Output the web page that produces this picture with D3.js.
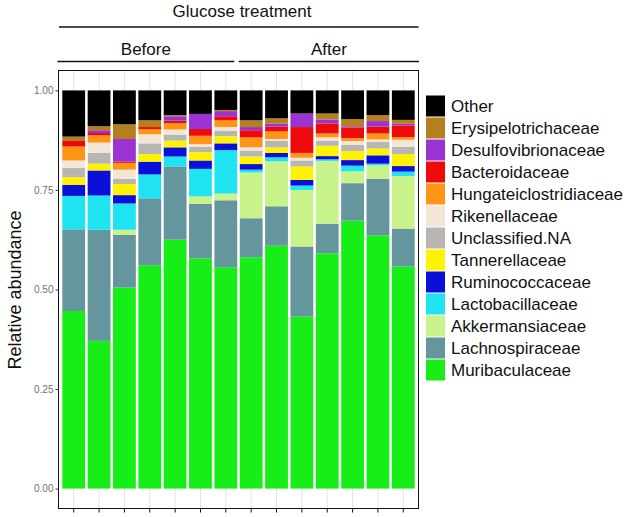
<!DOCTYPE html>
<html><head><meta charset="utf-8">
<script src="https://cdn.jsdelivr.net/npm/d3@7"></script>
<style>html,body{margin:0;padding:0;background:#fff;}svg{display:block;font-family:"Liberation Sans",Arial,sans-serif;}</style>
</head><body>
<svg id="c" width="640" height="517"></svg>
<script>
const samples = ["B1","B2","B3","B4","B5","B6","B7","A1","A2","A3","A4","A5","A6","A7"];
const families = ["Other","Erysipelotrichaceae","Desulfovibrionaceae","Bacteroidaceae","Hungateiclostridiaceae","Rikenellaceae","Unclassified.NA","Tannerellaceae","Ruminococcaceae","Lactobacillaceae","Akkermansiaceae","Lachnospiraceae","Muribaculaceae"];
const colors = ["#000000","#B5801C","#9A32D4","#EE0A0A","#FF9515","#F4E6D6","#B8B6B2","#FFF300","#0A10D8","#1FE3F0","#C8F28A","#65969D","#17EE17"];

const Other                  = [.116,.090,.085,.075,.062,.059,.049, .075,.070,.058,.058,.072,.062,.074];
const Erysipelotrichaceae    = [.011,.010,.037,.017,.003,.000,.003, .017,.013,.000,.015,.018,.015,.010];
const Desulfovibrionaceae    = [.000,.007,.057,.000,.011,.038,.013, .008,.008,.034,.010,.003,.014,.004];
const Bacteroidaceae         = [.014,.006,.003,.005,.006,.017,.010, .018,.012,.065,.025,.027,.017,.029];
const Hungateiclostridiaceae = [.035,.018,.017,.013,.016,.021,.017, .025,.019,.012,.010,.007,.015,.007];
const Rikenellaceae          = [.019,.026,.023,.023,.013,.007,.010, .008,.004,.007,.008,.010,.006,.018];
const UnclassifiedNA         = [.023,.027,.013,.027,.015,.013,.013, .015,.017,.015,.013,.015,.017,.018];
const Tannerellaceae         = [.019,.017,.028,.019,.017,.021,.018, .019,.014,.034,.026,.023,.017,.030];
const Ruminococcaceae        = [.028,.063,.021,.032,.023,.021,.017, .014,.011,.014,.008,.014,.021,.014];
const Lactobacillaceae       = [.084,.086,.066,.060,.025,.069,.109, .007,.010,.011,.004,.014,.004,.011];
const Akkermansiaceae        = [.000,.000,.013,.000,.000,.019,.017, .115,.113,.142,.158,.030,.034,.132];
const Lachnospiraceae        = [.205,.279,.132,.168,.184,.137,.168, .098,.099,.176,.074,.094,.142,.095];
const Muribaculaceae         = [.446,.371,.505,.561,.625,.578,.556, .581,.610,.432,.591,.673,.636,.558];

const yTicks = [0, 0.25, 0.5, 0.75, 1];
const yTickLabels = ["0.00","0.25","0.50","0.75","1.00"];
const groups = [{name:"Before", from:0, to:6}, {name:"After", from:7, to:13}];
const topTitle = "Glucose treatment";
const yTitle = "Relative abundance";

const seriesValues = [Other,Erysipelotrichaceae,Desulfovibrionaceae,Bacteroidaceae,Hungateiclostridiaceae,Rikenellaceae,UnclassifiedNA,Tannerellaceae,Ruminococcaceae,Lactobacillaceae,Akkermansiaceae,Lachnospiraceae,Muribaculaceae];
const table = samples.map((s,i)=>{const o={sample:s}; families.forEach((f,k)=>o[f]=seriesValues[k][i]); return o;});

const svg = d3.select("#c");
const L = 58.5, R = 418.5, T = 70.5, B = 508.5;

const x = d3.scaleBand().domain(samples).range([L,R]).paddingInner(0.1).paddingOuter(0.15);
const y = d3.scaleLinear().domain([-0.05,1.05]).range([B,T]);
const color = d3.scaleOrdinal().domain(families).range(colors);

// panel background + gridlines
svg.append("rect").attr("x",L).attr("y",T).attr("width",R-L).attr("height",B-T).attr("fill","#fff");
svg.append("g").selectAll("line").data(samples).join("line")
  .attr("x1",d=>x(d)+x.bandwidth()/2).attr("x2",d=>x(d)+x.bandwidth()/2)
  .attr("y1",T).attr("y2",B).attr("stroke","#e3e3e3").attr("stroke-width",1);

// stacks: bottom = Muribaculaceae
const stackKeys = families.slice().reverse();
const stacked = d3.stack().keys(stackKeys)(table);
svg.append("g").selectAll("g").data(stacked).join("g")
  .attr("fill",d=>color(d.key))
  .selectAll("rect").data(d=>d).join("rect")
  .attr("x",d=>x(d.data.sample)).attr("width",x.bandwidth())
  .attr("y",d=>y(Math.min(d[1],1))).attr("height",d=>Math.max(0,y(d[0])-y(Math.min(d[1],1))));

// panel border
svg.append("rect").attr("x",L).attr("y",T).attr("width",R-L).attr("height",B-T)
  .attr("fill","none").attr("stroke","#111").attr("stroke-width",1);

// y axis
const yAxis = d3.axisLeft(y).tickValues(yTicks).tickFormat((d,i)=>yTickLabels[i]).tickSize(3).tickPadding(2);
const ga = svg.append("g").attr("transform",`translate(${L},0)`).call(yAxis);
ga.select(".domain").remove();
ga.selectAll("line").attr("stroke","#333");
ga.selectAll("text").attr("font-size",10).attr("fill","#707070").attr("font-family","Liberation Sans, Arial, sans-serif");

// x axis ticks (labels cut off)
const xAxis = d3.axisBottom(x).tickSize(4).tickFormat("");
const gx = svg.append("g").attr("transform",`translate(0,${B})`).call(xAxis);
gx.select(".domain").remove();
gx.selectAll("line").attr("stroke","#111");

// y title
svg.append("text").attr("transform","translate(21,290) rotate(-90)")
  .attr("text-anchor","middle").attr("font-size",18).attr("fill","#111").text(yTitle);

// top strips
svg.append("text").attr("x",242).attr("y",16.5).attr("text-anchor","middle").attr("font-size",17).attr("fill","#111").text(topTitle);
svg.append("line").attr("x1",59).attr("x2",418.5).attr("y1",27).attr("y2",27).attr("stroke","#111").attr("stroke-width",1.3);
const gxPos = (i, side) => side==="l" ? x(samples[i]) - (x.step()-x.bandwidth())*1.3 : x(samples[i]) + x.bandwidth() + (x.step()-x.bandwidth())*1.3;
groups.forEach((g,gi)=>{
  const x1 = gi===0 ? L-1 : x(samples[g.from]) - 1;
  const x2 = gi===0 ? x(samples[g.to]) + x.bandwidth() - 3 : R + 0.5;
  svg.append("line").attr("x1",x1).attr("x2",x2).attr("y1",61.5).attr("y2",61.5).attr("stroke","#111").attr("stroke-width",1.3);
  svg.append("text").attr("x",(x1+x2)/2).attr("y",55).attr("text-anchor","middle").attr("font-size",17).attr("fill","#111").text(g.name);
});

// legend
const lg = svg.append("g").attr("transform","translate(426,95)");
const item = lg.selectAll("g").data(families).join("g").attr("transform",(d,i)=>`translate(0,${i*22})`);
item.append("rect").attr("width",19).attr("height",21).attr("y",0.5).attr("fill",d=>color(d));
item.append("text").attr("x",25).attr("y",17).attr("font-size",17).attr("fill","#111").text(d=>d);
</script>
</body></html>
